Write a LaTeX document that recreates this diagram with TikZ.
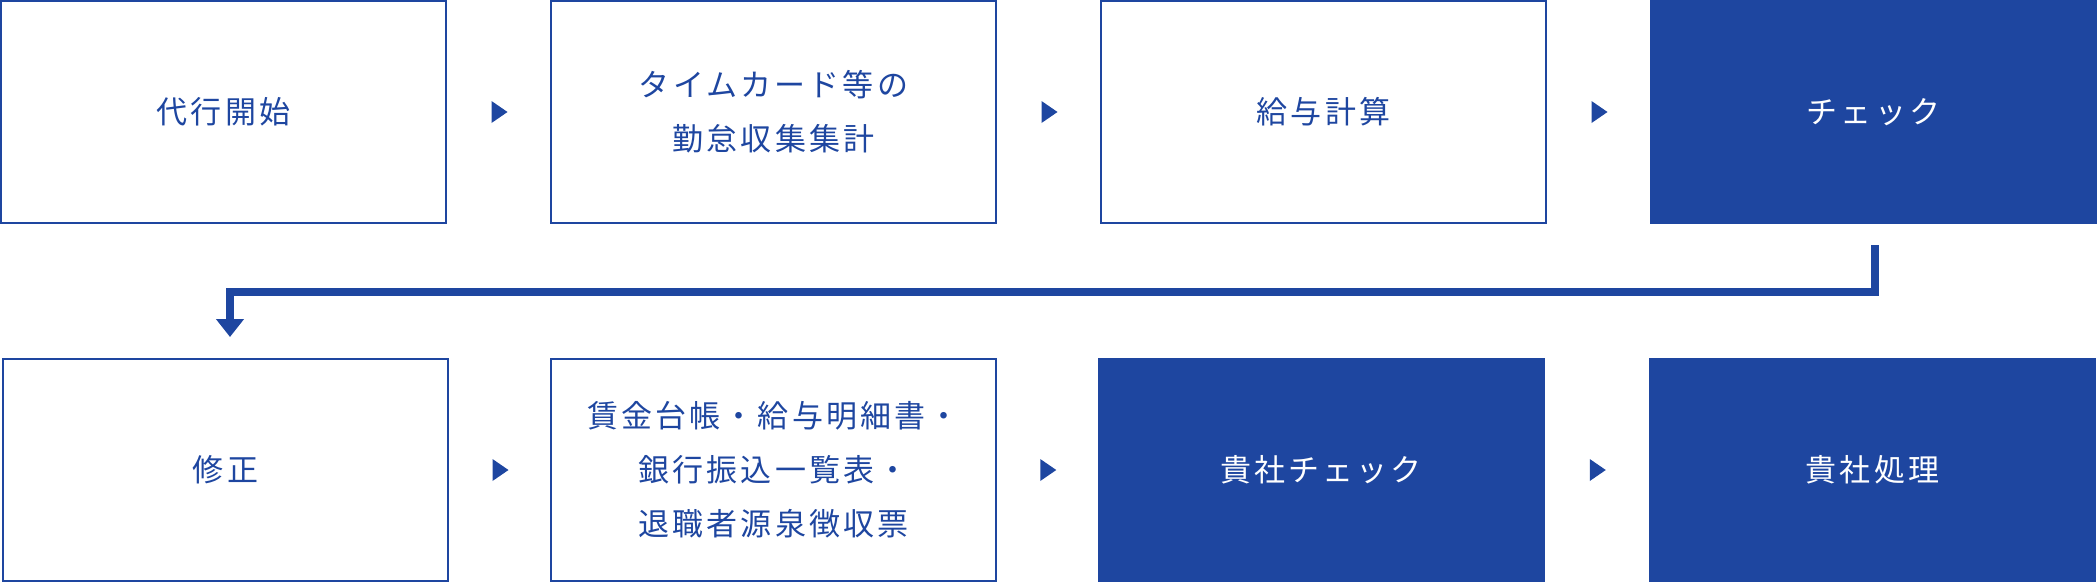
\documentclass[tikz,border=0pt]{standalone}
\usepackage{fontspec}
\setmainfont{Noto Sans CJK JP}[LetterSpace=10]
\usetikzlibrary{arrows.meta,calc}
\definecolor{brand}{HTML}{1E46A0}
\begin{document}
\begin{tikzpicture}[x=1pt,y=-1pt,
  box/.style={draw=brand, line width=2pt, minimum width=445pt, minimum height=222pt,
    inner sep=0pt, text=brand, font=\fontsize{31}{54}\selectfont, align=center},
  filledbox/.style={box, fill=brand, text=white},
  flowtri/.style={fill=brand}]
\useasboundingbox (0,0) rectangle (2098,584);
% row 1
\node[box] (start) at (223.5,112) {代行開始};
\node[box] (time) at (773.5,112) {タイムカード等の\\勤怠収集集計};
\node[box] (calc) at (1323.5,112) {給与計算};
\node[filledbox] (chk) at (1873.5,112) {チェック};
% row 2
\node[box] (fix) at (225.5,470) {修正};
\node[box] (docs) at (773.5,470) {賃金台帳・給与明細書・\\銀行振込一覧表・\\退職者源泉徴収票};
\node[filledbox] (cchk) at (1321,470) {貴社チェック};
\node[filledbox] (cproc) at (1872.5,470) {貴社処理};
% small triangles between boxes
\foreach \a/\b/\n in {start/time/t1, time/calc/t2, calc/chk/t3, fix/docs/t4, docs/cchk/t5, cchk/cproc/t6}{
  \path (\a.east) -- (\b.west) coordinate[pos=0.5] (\n);
  \fill[flowtri] ($(\n)+(-7,-11)$) -- ($(\n)+(9,0)$) -- ($(\n)+(-7,11)$) -- cycle;
}
% return connector
\coordinate (r0) at ($(chk.south)+(1.5,21)$);
\coordinate (r1) at ($(fix.north)+(4.5,-21)$);
\draw[brand, line width=8pt, -{Triangle[length=18pt,width=27pt]}]
  (r0) -- ($(r0|-0,292)$) -| (r1);
\end{tikzpicture}
\end{document}
